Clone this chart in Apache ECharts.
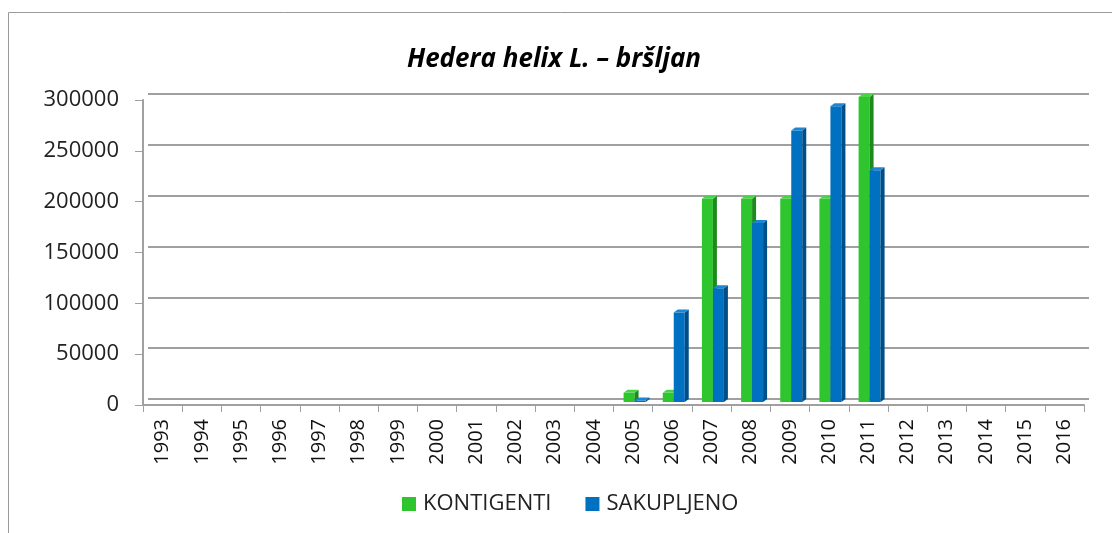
<!DOCTYPE html>
<html>
<head>
<meta charset="utf-8">
<script src="https://cdn.jsdelivr.net/npm/echarts@6/dist/echarts.min.js"></script>
<style>
  html, body { margin:0; padding:0; background:#fff; }
  #chartmain { width:1112px; height:533px; }
</style>
</head>
<body>
<div id="chartmain"></div>
<script>
// podaci s grafikona
var years = ['1993','1994','1995','1996','1997','1998','1999','2000','2001','2002','2003','2004',
             '2005','2006','2007','2008','2009','2010','2011','2012','2013','2014','2015','2016'];
var kontigenti = [null,null,null,null,null,null,null,null,null,null,null,null,
                  9000,9000,200000,200000,200000,200000,300000,null,null,null,null,null];
var sakupljeno = [null,null,null,null,null,null,null,null,null,null,null,null,
                  1500,88000,112000,176000,267000,291000,228000,null,null,null,null,null];
var yTicks = [0, 50000, 100000, 150000, 200000, 250000, 300000];

var fontName = '"Open Sans", sans-serif';

// 3D stupac: prednja strana, bok i vrh
var makeBar = function(front, side, top, shift){
    return function(params, api){
        var v = api.value(1);
        if (v == null || isNaN(v)) return;
        var t = api.coord([api.value(0), v]);
        var b = api.coord([api.value(0), 0]);
        var w = 11, dx = 4, dy = -3;
        var x0 = t[0] + shift;
        var children = [
            {type:'rect', shape:{x:x0, y:t[1], width:w, height:b[1]-t[1]}, style:{fill:front}},
            {type:'polygon', shape:{points:[[x0+w,t[1]],[x0+w+dx,t[1]+dy],[x0+w+dx,b[1]+dy],[x0+w,b[1]]]}, style:{fill:side}},
            {type:'polygon', shape:{points:[[x0,t[1]],[x0+dx,t[1]+dy],[x0+w+dx,t[1]+dy],[x0+w,t[1]]]}, style:{fill:top}}
        ];
        return {type:'group', children:children};
    };
};

var seriesData = function(arr){
    var out = [];
    for (var i = 0; i < arr.length; i++) out.push([i, arr[i]]);
    return out;
};

var chart = echarts.init(document.getElementById('chartmain'));

var option = {
    backgroundColor:'#fff',
    animation:false,
    title:{
        text:'Hedera helix L. \u2013 bršljan',
        left:549, top:42, textAlign:'center',
        textStyle:{fontFamily:fontName, fontSize:26, fontWeight:'bold', fontStyle:'italic', color:'#000'}
    },
    legend:{
        data:['KONTIGENTI','SAKUPLJENO'],
        left:397, top:488,
        icon:'rect', itemWidth:14, itemHeight:14, itemGap:34,
        textStyle:{fontFamily:fontName, fontSize:22, color:'#222', padding:[0,0,0,2]}
    },
    graphic:[
        {type:'rect', shape:{x:8.5, y:12.5, width:1200, height:700}, style:{fill:null, stroke:'#9a9a9a', lineWidth:1}, silent:true}
    ],
    grid:[
        {left:148, right:23, top:94, bottom:134},   // zadnji zid
        {left:143, right:28, top:100, bottom:128},  // prednja os
        {left:146, right:26, top:97, bottom:131}    // stupci
    ],
    xAxis:[
        {gridIndex:0, type:'category', data:years, show:false},
        {gridIndex:1, type:'category', data:years,
            axisLine:{show:true, lineStyle:{color:'#a0a0a0', width:2}},
            axisTick:{show:true, length:7, lineStyle:{color:'#a0a0a0'}},
            axisLabel:{rotate:90, fontFamily:fontName, fontSize:20, color:'#111', margin:14, interval:0}
        },
        {gridIndex:2, type:'category', data:years, show:false}
    ],
    yAxis:[
        {gridIndex:0, type:'value', min:0, max:300000, interval:50000,
            axisLine:{show:false}, axisTick:{show:false}, axisLabel:{show:false},
            splitLine:{show:true, lineStyle:{color:'#a0a0a0', width:2}}
        },
        {gridIndex:1, type:'value', min:yTicks[0], max:yTicks[yTicks.length-1], interval:yTicks[1]-yTicks[0],
            axisLine:{show:true, lineStyle:{color:'#a0a0a0', width:2}},
            axisTick:{show:true, length:8, lineStyle:{color:'#a0a0a0'}},
            axisLabel:{fontFamily:fontName, fontSize:22, color:'#222', margin:24,
                formatter:function(v){ return String(v); }},
            splitLine:{show:false}
        },
        {gridIndex:2, type:'value', min:0, max:300000, show:false, splitLine:{show:false}}
    ],
    series:[
        {name:'KONTIGENTI', type:'custom', xAxisIndex:2, yAxisIndex:2,
            itemStyle:{color:'#2ec52e'},
            renderItem:makeBar('#2ec52e','#1e8a1e','#47d447',-12),
            data:seriesData(kontigenti)},
        {name:'SAKUPLJENO', type:'custom', xAxisIndex:2, yAxisIndex:2,
            itemStyle:{color:'#0070c0'},
            renderItem:makeBar('#0070c0','#004e87','#1a86d4',-1),
            data:seriesData(sakupljeno)}
    ]
};

chart.setOption(option);
</script>
</body>
</html>
